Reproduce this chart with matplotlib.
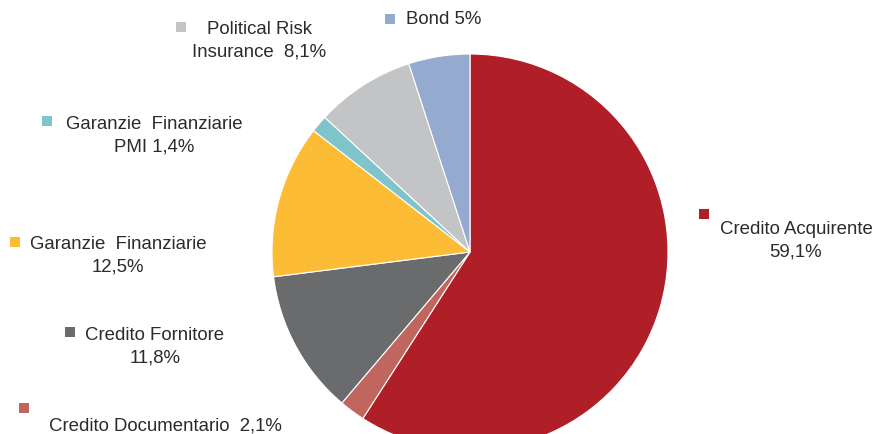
import matplotlib.pyplot as plt
from matplotlib.patches import Rectangle

plt.rcParams['font.family'] = ['Liberation Sans', 'DejaVu Sans']

# Portfolio shares by product (%)
categories = ['Credito Acquirente', 'Credito Documentario', 'Credito Fornitore',
              'Garanzie Finanziarie', 'Garanzie Finanziarie PMI',
              'Political Risk Insurance', 'Bond']
shares = [59.1, 2.1, 11.8, 12.5, 1.4, 8.1, 5.0]
colors = ['#B01F28', '#C0665F', '#6A6B6D', '#FDBC36', '#7EC4CA', '#C3C4C6', '#94AACF']

W, H = 874, 435
fig = plt.figure(figsize=(W / 100, H / 100), dpi=100)
ax = fig.add_axes([0, 0, 1, 1])

ax.pie(shares, colors=colors, startangle=90, counterclock=False,
       center=(470, H - 253), radius=198,
       wedgeprops=dict(edgecolor='white', linewidth=0.8))
ax.set_xlim(0, W)
ax.set_ylim(0, H)
ax.set_aspect('equal')
ax.axis('off')


def pct(v):
    s = f'{v:g}' if float(v).is_integer() else f'{v:.1f}'
    return s.replace('.', ',') + '%'


# label text lines, text anchor (x, y from top), marker position (x, y from top)
labels = [
    (['Credito Acquirente', pct(shares[0])], (796, 241), (704, 215)),
    ([f'Credito Documentario  {pct(shares[1])}'], (165, 426), (24, 409)),
    (['Credito Fornitore', pct(shares[2])], (155, 347), (70, 333)),
    (['Garanzie  Finanziarie', pct(shares[3])], (118, 256), (15, 243)),
    (['Garanzie  Finanziarie', f'PMI {pct(shares[4])}'], (154, 136), (47, 122)),
    (['Political Risk', f'Insurance  {pct(shares[5])}'], (259, 41), (181, 28)),
    ([f'Bond {pct(shares[6])}'], (444, 20), (390, 20)),
]

for (lines, (tx, ty), (mx, my)), c in zip(labels, colors):
    ax.text(tx, H - ty, '\n'.join(lines), ha='center', va='center',
            fontsize=13.4, color='#2b2b2b', linespacing=1.42)
    s = 10
    ax.add_patch(Rectangle((mx - s / 2, H - my - s / 2), s, s, facecolor=c,
                           edgecolor='none'))

fig.savefig('out.png', dpi=100, facecolor='white')
